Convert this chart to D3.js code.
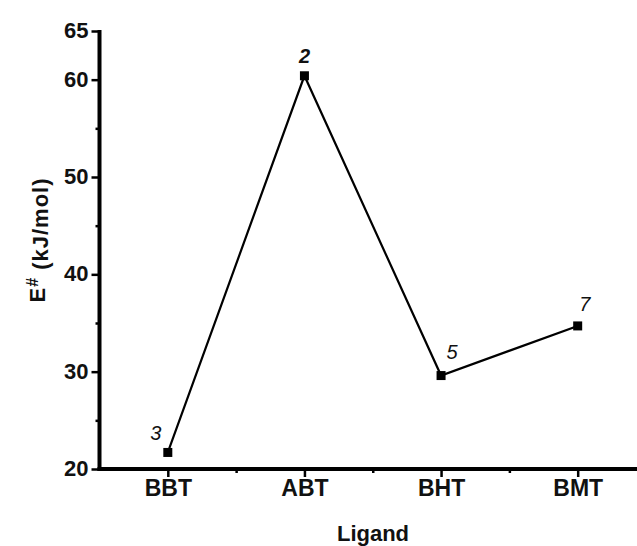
<!DOCTYPE html>
<html>
<head>
<meta charset="utf-8">
<script src="https://cdn.jsdelivr.net/npm/d3@7"></script>
<style>
  html, body { margin: 0; padding: 0; background: #fff; }
  svg { display: block; }
  text { font-family: "Liberation Sans", Arial, sans-serif; fill: #111; }
</style>
</head>
<body>
<svg id="chart" width="637" height="546"></svg>
<script>
// Activation energy per ligand
const ligands = ["BBT", "ABT", "BHT", "BMT"];
const energies = [21.7, 60.4, 29.6, 34.7];
const compoundLabels = ["3", "2", "5", "7"];
const yMajorTicks = [20, 30, 40, 50, 60, 65];
const yMinorTicks = [25, 35, 45, 55];

const svg = d3.select("#chart");
const W = 637, H = 546;

// category positions 1..n on a linear axis so half-steps carry minor ticks
const x = d3.scaleLinear().domain([0.5, 4.5]).range([99.5, 646]);
const y = d3.scaleLinear().domain([20, 65]).range([469, 31]);

const axisColor = "#000";

// y axis
const yAxis = svg.append("g").attr("transform", `translate(${x(0.5)},0)`);
yAxis.call(d3.axisLeft(y).tickValues(yMajorTicks).tickSize(8).tickPadding(3).tickFormat(d3.format("d")));
yAxis.append("g").call(d3.axisLeft(y).tickValues(yMinorTicks).tickSize(4).tickFormat(""));
yAxis.selectAll(".domain").remove();
yAxis.selectAll("line").attr("stroke", axisColor).attr("stroke-width", 2.5);
yAxis.selectAll("text").style("font-size", "22px").style("font-weight", "bold").attr("dy", "0.3em");
yAxis.append("line")
  .attr("x1", 0).attr("x2", 0)
  .attr("y1", y(65) - 1).attr("y2", y(20) + 2)
  .attr("stroke", axisColor).attr("stroke-width", 4);

// x axis
const xAxis = svg.append("g").attr("transform", `translate(0,${y(20)})`);
xAxis.call(d3.axisBottom(x).tickValues(d3.range(1, ligands.length + 1)).tickSize(8).tickPadding(3)
  .tickFormat(i => ligands[i - 1]));
xAxis.append("g").call(d3.axisBottom(x).tickValues([1.5, 2.5, 3.5]).tickSize(4).tickFormat(""));
xAxis.selectAll(".domain").remove();
xAxis.selectAll("line").attr("stroke", axisColor).attr("stroke-width", 2.5);
xAxis.selectAll("text").style("font-size", "23px").style("font-weight", "bold");
xAxis.append("line")
  .attr("x1", x(0.5) - 2).attr("x2", W)
  .attr("y1", 0).attr("y2", 0)
  .attr("stroke", axisColor).attr("stroke-width", 4);

// axis titles
svg.append("text")
  .attr("x", 373).attr("y", 541)
  .attr("text-anchor", "middle")
  .style("font-size", "22px").style("font-weight", "bold")
  .text("Ligand");

const yTitle = svg.append("text")
  .attr("transform", `translate(45,${240}) rotate(-90)`)
  .attr("text-anchor", "middle")
  .style("font-size", "22px").style("font-weight", "bold")
  .style("letter-spacing", "1px");
yTitle.append("tspan").text("E");
yTitle.append("tspan").attr("dy", "-0.45em").style("font-size", "16px").text("#");
yTitle.append("tspan").attr("dy", "0.45em").text(" (kJ/mol)");

// data line and markers
const pts = energies.map((v, i) => [x(i + 1), y(v)]);
svg.append("path")
  .attr("d", d3.line()(pts))
  .attr("fill", "none").attr("stroke", "#000").attr("stroke-width", 2.2);

svg.selectAll("rect.marker").data(energies).join("rect")
  .attr("class", "marker")
  .attr("x", (d, i) => x(i + 1) - 4.5)
  .attr("y", d => y(d) - 4.5)
  .attr("width", 9).attr("height", 9)
  .attr("fill", "#000");

// compound numbers next to each point
const labelShift = [[-12, -12], [0, -13], [11, -17], [7, -15]];
svg.selectAll("text.cmpd").data(energies).join("text")
  .attr("class", "cmpd")
  .attr("x", (d, i) => x(i + 1) + labelShift[i][0])
  .attr("y", (d, i) => y(d) + labelShift[i][1])
  .attr("text-anchor", "middle")
  .style("font-size", "20px").style("font-style", "italic")
  .style("font-weight", (d, i) => i === 1 ? "bold" : "normal")
  .text((d, i) => compoundLabels[i]);
</script>
</body>
</html>
